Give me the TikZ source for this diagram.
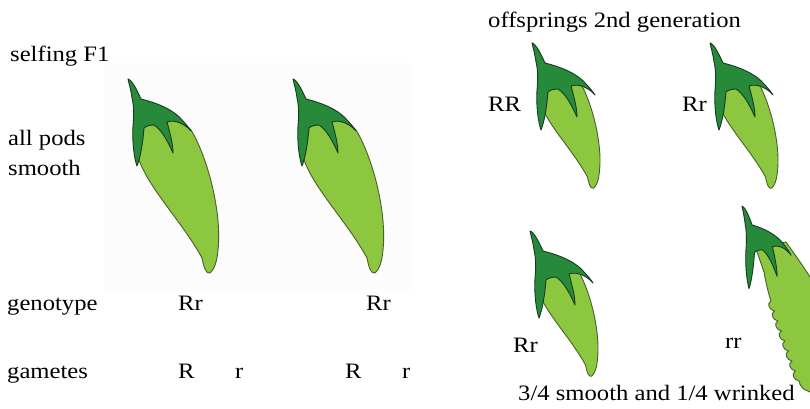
\documentclass[tikz,border=0pt]{standalone}
\usepackage{fontspec}
\setmainfont{Liberation Serif}[FakeStretch=1.12]

\definecolor{podlight}{RGB}{141,198,63}
\definecolor{podcap}{RGB}{38,138,58}
\definecolor{podedge}{RGB}{72,96,44}
\definecolor{capedge}{RGB}{24,58,30}

\tikzset{
  lbl/.style={anchor=base west, inner sep=0pt, font=\fontsize{22}{26}\selectfont},
  podbody/.style={fill=podlight, draw=podedge, line width=0.9pt, line join=round},
  podcapstyle/.style={fill=podcap, draw=capedge, line width=0.9pt, line join=round},
  % dark green calyx with stem, origin at the stem tip
  calyx/.pic={
    \path[podcapstyle] (0,1) .. controls (4,2) and (9,12) .. (13,21)
      .. controls (25,24) and (44,30) .. (54,42)
      .. controls (58,46) and (61,50) .. (63,53)
      .. controls (58,47) and (48,41) .. (39,44)
      .. controls (42,55) and (45,66) .. (45,75)
      .. controls (40,64) and (34,52) .. (26,47)
      .. controls (22,47) and (18,48) .. (16,50)
      .. controls (15,62) and (13,78) .. (9,88)
      .. controls (6,80) and (4,62) .. (5,48)
      .. controls (6,38) and (6,28) .. (4,20)
      .. controls (3,12) and (1,6) .. (0,1) -- cycle;
  },
  % smooth pod: curved body under the calyx
  pod/.pic={
    \path[podbody] (14,48) .. controls (30,36) and (52,40) .. (63,52)
      .. controls (80,80) and (94,135) .. (90,172)
      .. controls (89,184) and (86,192) .. (82,195)
      .. controls (78,196) and (76,190) .. (74,180)
      .. controls (55,145) and (22,112) .. (11,82)
      -- cycle;
    \pic {calyx};
  }
}

\begin{document}
\begin{tikzpicture}[x=1pt,y=-1pt]
\useasboundingbox (0,0) rectangle (810,409);

% faint photo backdrop behind the two parent pods
\fill[black!1.2] (105,63) rectangle (412,290);

% parent pods (F1)
\pic (parentA) at (128,78) {pod};
\pic (parentB) at (293,78) {pod};

% second generation pods
\pic[scale=0.75] (childRR) at (532,42) {pod};
\pic[scale=0.75] (childRrA) at (710,42) {pod};
\pic[scale=0.75] (childRrB) at (530,230) {pod};

% wrinkled pod, running off the right edge; scalloped left side
\begin{scope}
  \clip (0,0) rectangle (810,409);
  \path[podbody] (755,246) -- (786,242)
    .. controls (800,262) and (812,278) .. (818,292)
    -- (818,396) -- (808,391)
    .. controls (803,390) and (800,386) .. (799,381)
    .. controls +(-5,-1) and +(-5,2.5) .. (795.5,371)
    .. controls +(-5,-1) and +(-5,2.5) .. (792,361)
    .. controls +(-5,-1) and +(-5,2.5) .. (788.5,351)
    .. controls +(-5,-1) and +(-5,2.5) .. (785,341)
    .. controls +(-5,-1) and +(-5,2.5) .. (781.5,331)
    .. controls +(-5,-1) and +(-5,2.5) .. (778,321)
    .. controls +(-5,-1) and +(-5,2.5) .. (774.5,311)
    .. controls +(-5,-1) and +(-5,2.5) .. (771,301)
    .. controls (768,292) and (766,283) .. (764,272)
    -- cycle;
  \pic[xscale=0.78, yscale=0.95] (childrr) at (742,205) {calyx};
\end{scope}

% left column labels
\node[lbl] (selfing) at (10,62) {selfing F1};
\node[lbl] (allpods) at (8,145) {all pods};
\node[lbl] (smooth) at (8,175) {smooth};
\node[lbl] (genotype) at (7,310) {genotype};
\node[lbl] (gametes) at (7,378) {gametes};

% parent genotypes and gametes
\node[lbl] (genoA) at (178,310) {Rr};
\node[lbl] (genoB) at (366,310) {Rr};
\node[lbl] (gamA1) at (178,378) {R};
\node[lbl] (gamA2) at (235,378) {r};
\node[lbl] (gamB1) at (345,378) {R};
\node[lbl] (gamB2) at (402,378) {r};

% offspring labels
\node[lbl] (offspring) at (488,28) {offsprings 2nd generation};
\node[lbl] (labRR) at (488,112) {RR};
\node[lbl] (labRrA) at (682,112) {Rr};
\node[lbl] (labRrB) at (513,352) {Rr};
\node[lbl] (labrr) at (725,348) {rr};
\node[lbl] (ratio) at (518,400) {3/4 smooth and 1/4 wrinked};
\end{tikzpicture}
\end{document}
